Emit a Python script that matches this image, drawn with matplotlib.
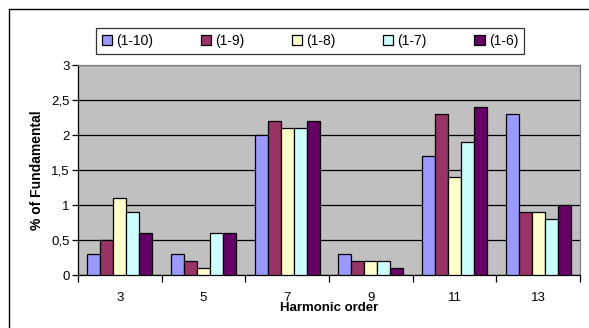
import numpy as np
import matplotlib
matplotlib.use("Agg")
import matplotlib.pyplot as plt
from matplotlib.patches import Rectangle
from matplotlib.ticker import FuncFormatter

plt.rcParams['font.family'] = ['Liberation Sans', 'DejaVu Sans']

# data
orders = ["3", "5", "7", "9", "11", "13"]
series = ["(1-10)", "(1-9)", "(1-8)", "(1-7)", "(1-6)"]
s_1_10 = [0.3, 0.3, 2.0, 0.3, 1.7, 2.3]
s_1_9 = [0.5, 0.2, 2.2, 0.2, 2.3, 0.9]
s_1_8 = [1.1, 0.1, 2.1, 0.2, 1.4, 0.9]
s_1_7 = [0.9, 0.6, 2.1, 0.2, 1.9, 0.8]
s_1_6 = [0.6, 0.6, 2.2, 0.1, 2.4, 1.0]
values = [s_1_10, s_1_9, s_1_8, s_1_7, s_1_6]
colors = ["#9999FF", "#993366", "#FFFFCC", "#CCFFFF", "#660066"]

W, H = 589, 328
fig = plt.figure(figsize=(W / 100, H / 100), dpi=100)
# outer chart border (cut off at right/bottom like the original)
fig.patches.append(Rectangle((9 / W, -0.1), 1.2, 1.1 - 9 / H, transform=fig.transFigure,
                             fill=False, edgecolor="black", linewidth=1.0))

ax = fig.add_axes([78 / W, 1 - 275 / H, (580 - 78) / W, (275 - 65) / H])
ax.set_facecolor("#C0C0C0")

x = np.arange(len(orders))
bw = 0.155
for i, (name, vals, c) in enumerate(zip(series, values, colors)):
    ax.bar(x + (i - 2) * bw, vals, bw, color=c, edgecolor="black", linewidth=0.9,
           label=name, zorder=3)

ax.set_xlim(-0.5, len(orders) - 0.5)
ax.set_ylim(0, 3)
ax.set_yticks(np.arange(0, 3.01, 0.5))
ax.yaxis.set_major_formatter(FuncFormatter(lambda v, p: ("%g" % v).replace(".", ",")))
ax.grid(axis="y", color="black", linewidth=0.9, zorder=1)
ax.set_xticks(x)
ax.set_xticklabels(orders)
ax.set_xticks(np.arange(-0.5, len(orders)), minor=True)
ax.tick_params(axis="x", which="major", length=0, pad=12, labelsize=9.5)
ax.tick_params(axis="x", which="minor", length=5, width=0.9, direction="out")
ax.tick_params(axis="y", length=4, width=0.9, direction="out", labelsize=9.5, pad=2)

for s in ["left", "bottom"]:
    ax.spines[s].set_color("black")
    ax.spines[s].set_linewidth(0.9)
for s in ["top", "right"]:
    ax.spines[s].set_color("#808080")
    ax.spines[s].set_linewidth(0.9)

ax.set_xlabel("Harmonic order", fontsize=9.5, fontweight="bold", labelpad=-1)
ax.set_ylabel("% of Fundamental", fontsize=10, fontweight="bold", labelpad=5)

leg = fig.legend(loc="center", bbox_to_anchor=((97 + 523) / 2 / W, 1 - 41 / H), ncol=5,
                 frameon=True, fancybox=False, edgecolor="black", fontsize=10,
                 handlelength=0.75, handleheight=0.75, handletextpad=0.3,
                 columnspacing=3.4, borderpad=0.45)
leg.get_frame().set_linewidth(0.9)

fig.savefig("out.png", dpi=100)
